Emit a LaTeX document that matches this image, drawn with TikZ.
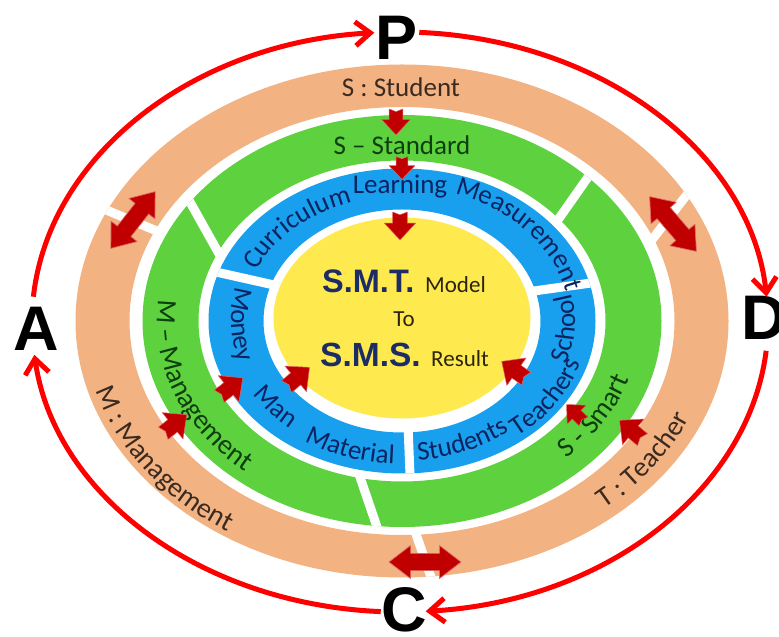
\documentclass[tikz,border=0pt]{standalone}
\usepackage{fontspec}
\setmainfont{Carlito}
\newfontfamily\letterfont{Liberation Sans}
\usetikzlibrary{arrows.meta,decorations.text,calc}

\definecolor{orng}{HTML}{F2B282}
\definecolor{grn}{HTML}{5DD13E}
\definecolor{blu}{HTML}{18A0EE}
\definecolor{yel}{HTML}{FEE94E}
\definecolor{arcred}{HTML}{FF0000}
\definecolor{arrred}{HTML}{C00000}
\definecolor{arredge}{HTML}{E06A6A}
\definecolor{txtO}{HTML}{3A2A20}
\definecolor{txtG}{HTML}{0E3E10}
\definecolor{txtB}{HTML}{0B2461}
\definecolor{navy}{HTML}{1C2C64}
\definecolor{txtY}{HTML}{2A2410}

\newcommand\fO{\fontsize{28}{30}\selectfont\color{txtO}}
\newcommand\fG{\fontsize{28}{30}\selectfont\color{txtG}}
\newcommand\fB{\fontsize{27}{29}\selectfont\color{txtB}}
% #1 start angle, #2 end angle, #3 x radius, #4 y radius, #5 format, #6 text
\newcommand\arclabel[6]{%
  \path[decorate, decoration={text along path, text align=center, text={|#5|#6}}]
    (402,316) ++(#1:#3 and #4) arc[start angle=#1, end angle=#2, x radius=#3, y radius=#4];}

\tikzset{
  sarrow/.pic={\filldraw[fill=arrred, draw=arredge, line width=0.5pt, line join=round]
     (-0.5,0.26) -- (-0.1,0.26) -- (-0.1,0.56) -- (0.5,0) -- (-0.1,-0.56) -- (-0.1,-0.26) -- (-0.5,-0.26) -- (-0.4,0) -- cycle;},
  darrow/.pic={\filldraw[fill=arrred, draw=arredge, line width=0.7pt, line join=round]
     (-0.5,0) -- (-0.2,0.23) -- (-0.2,0.12) -- (0.2,0.12) -- (0.2,0.23) -- (0.5,0) -- (0.2,-0.23) -- (0.2,-0.12) -- (-0.2,-0.12) -- (-0.2,-0.23) -- cycle;},
  sepline/.style={white, line width=9pt, shorten <=-15pt, shorten >=-60pt},
  redarc/.style={arcred, line width=5pt, -{Straight Barb[length=15pt,width=24pt]}},
  bigletter/.style={font=\letterfont\bfseries\fontsize{63}{63}\selectfont, inner sep=0pt, text=black},
  labO/.style={font=\fontsize{27}{29}\selectfont, text=txtO, inner sep=0pt},
  labG/.style={font=\fontsize{27}{29}\selectfont, text=txtG, inner sep=0pt},
  labB/.style={font=\fontsize{27}{29}\selectfont, text=txtB, inner sep=0pt},
  bigy/.style={font=\letterfont\bfseries\fontsize{32.5}{35}\selectfont, text=navy, inner sep=0pt},
  smally/.style={font=\fontsize{23}{25}\selectfont, text=txtY, inner sep=0pt},
}

\begin{document}
\begin{tikzpicture}[x=1pt,y=1pt]
\useasboundingbox (0,0) rectangle (779,637);
\fill[white] (0,0) rectangle (779,637);

% ---- orange ring
\fill[orng, even odd rule] (402,316) ellipse [x radius=326.5, y radius=256.5]
                           (402,316) ellipse [x radius=272.5, y radius=214];
\begin{scope}
  \clip (402,316) ellipse [x radius=326.5, y radius=256.5];
  \draw[sepline] (111,425) -- (152,408);
  \draw[sepline] (682,436) -- (658,405);
  \draw[sepline] (432,57) -- (417,100);
\end{scope}

% ---- green ring
\fill[grn, even odd rule] (402,316) ellipse [x radius=259.5, y radius=206]
                          (402,316) ellipse [x radius=203.5, y radius=160.5];
\begin{scope}
  \clip (402,316) ellipse [x radius=259.5, y radius=206];
  \draw[sepline] (190,435) -- (218,385);
  \draw[sepline] (586,457) -- (560,420);
  \draw[sepline] (377,110) -- (362,154);
\end{scope}

% ---- blue ring
\fill[blu, even odd rule] (402,316) ellipse [x radius=193.5, y radius=152.5]
                          (402,316) ellipse [x radius=138.5, y radius=111.5];
\begin{scope}
  \clip (402,316) ellipse [x radius=193.5, y radius=152.5];
  \draw[sepline] (216,365) -- (274,352);
  \draw[sepline] (591,354) -- (534,346);
  \draw[sepline] (410,162) -- (408,212);
\end{scope}

% ---- yellow centre
\fill[yel] (402,319) ellipse [x radius=128.5, y radius=100.5];

% ---- straight ring labels
\node[labO, anchor=base] (student) at (401,540) {S : Student};
\node[labG, anchor=base] (standard) at (402,482) {S – Standard};
\node[labB, anchor=base] (learning) at (400,443) {Learning};

% ---- curved labels: blue ring
\arclabel{174}{94}{159}{125}{\fB}{Curriculum}
\arclabel{81}{1}{168}{134}{\fB}{Measurement}
\arclabel{-43}{37}{173}{139}{\fB}{School}
\arclabel{-72}{8}{186}{148}{\fB}{Teachers}
\arclabel{-107}{-27}{175}{140}{\fB}{Students}
\arclabel{-149}{-69}{178}{143}{\fB}{Material}
\arclabel{-181.5}{-101.5}{175}{140}{\fB}{Man}
\arclabel{141.5}{221.5}{171}{138}{\fB}{Money}
% green ring
\arclabel{161}{241}{245}{196}{\fG}{M – Management}
\arclabel{-70}{10}{238.5}{190}{\fG}{S - Smart}
% orange ring
\arclabel{174.5}{254.5}{318.5}{251.7}{\fO}{M : Management}
\arclabel{-74}{6}{312.5}{247}{\fO}{T : Teacher}

% ---- centre texts
\node[bigy, anchor=base west] (smt) at (322,344) {S.M.T.};
\node[smally, anchor=base west] (model) at (425,344) {Model};
\node[smally, anchor=base] (to) at (404,310) {To};
\node[bigy, anchor=base west, font=\letterfont\bfseries\fontsize{33.5}{36}\selectfont] (sms) at (320,270) {S.M.S.};
\node[smally, anchor=base west] (result) at (431,270) {Result};

% ---- small block arrows
\pic[rotate=-90, scale=26] at (396,515) {sarrow};
\pic[rotate=-90, scale=23] at (402,469) {sarrow};
\pic[rotate=-90, scale=28] at (400,411) {sarrow};
\pic[rotate=38, scale=30] at (175,213) {sarrow};
\pic[rotate=38, scale=30] at (231,250) {sarrow};
\pic[rotate=40, scale=30] at (298,260) {sarrow};
\pic[rotate=140, scale=30] at (631,207) {sarrow};
\pic[rotate=135, scale=24] at (575,224) {sarrow};
\pic[rotate=145, scale=30] at (514,267) {sarrow};

% ---- double arrows
\pic[rotate=52, scale=72] at (133,417) {darrow};
\pic[rotate=-49.5, scale=72] at (673,413) {darrow};
\pic[rotate=0, scale=72] at (425,75) {darrow};

% ---- PDCA letters
\node[bigletter] (P) at (397,599) {P};
\node[bigletter] (A) at (36,308) {A};
\node[bigletter, anchor=west] (D) at (741,319) {D};
\node[bigletter] (C) at (404,27) {C};

% ---- red cycle arcs
\path (400,315) ++(175:368 and 290) coordinate (aS);
\path (400,315) ++(87:368 and 290) coordinate (pS);
\path (400,315) ++(-5.7:368 and 290) coordinate (dS);
\path (400,315) ++(267:368 and 290) coordinate (cS);
\draw[redarc] (aS) arc[start angle=175, end angle=94, x radius=368, y radius=290];
\draw[redarc] (pS) arc[start angle=87, end angle=5, x radius=368, y radius=290];
\draw[redarc] (dS) arc[start angle=-5.7, end angle=-86, x radius=368, y radius=290];
\draw[redarc] (cS) arc[start angle=267, end angle=186.5, x radius=368, y radius=290];
\end{tikzpicture}
\end{document}
